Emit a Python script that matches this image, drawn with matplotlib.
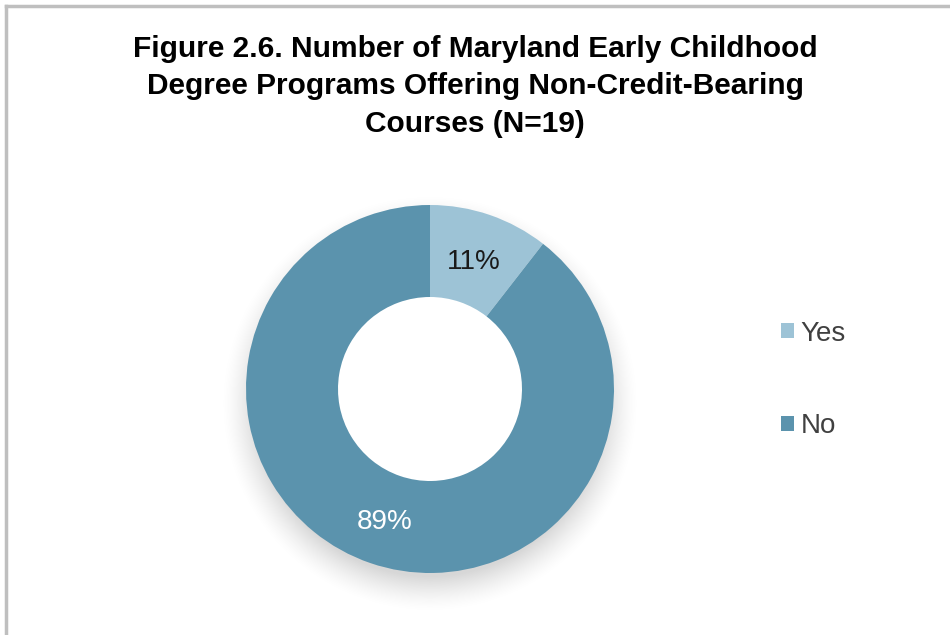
import numpy as np
import matplotlib
matplotlib.use("Agg")
import matplotlib.pyplot as plt
from matplotlib.lines import Line2D
from matplotlib.patches import Patch

plt.rcParams["font.family"] = ["Liberation Sans", "DejaVu Sans"]

# data: programs out of N=19
categories = ["Yes", "No"]
counts = [2, 17]
pct_labels = ["11%", "89%"]
colors = ["#9dc3d6", "#5b93ad"]
label_colors = ["#1a1a1a", "white"]
label_dist = [0.73, 0.765]

title = ("Figure 2.6. Number of Maryland Early Childhood\n"
         "Degree Programs Offering Non-Credit-Bearing\n"
         "Courses (N=19)")

fig = plt.figure(figsize=(9.5, 6.35), dpi=100)
fig.patch.set_facecolor("white")

# gray frame on top and left edges
fig.add_artist(Line2D([6 / 950, 1], [1 - 6 / 635, 1 - 6 / 635], color="#bfbfbf", lw=2.5,
                      transform=fig.transFigure))
fig.add_artist(Line2D([6 / 950, 6 / 950], [0, 1 - 6 / 635], color="#bfbfbf", lw=2.5,
                      transform=fig.transFigure))

fig.text(0.5, 0.945, title, ha="center", va="top", fontsize=21.5, fontweight="bold",
         color="black", linespacing=1.43)

ax = fig.add_axes([(430 - 184) / 950, (635 - 573) / 635, 368 / 950, 368 / 635])
ax.axis("off")

wedges, _ = ax.pie(counts, colors=colors, startangle=90, counterclock=False,
                   radius=1.0, wedgeprops=dict(width=0.5, edgecolor="none"))
for w in wedges:
    w.set_zorder(2)

# soft shadow below the ring (outside only)
gx, gy = np.meshgrid(np.linspace(-1.4, 1.4, 500), np.linspace(-1.4, 1.4, 500))
r = np.hypot(gx, gy + 0.08)
shadow = np.clip((1.14 - r) / 0.2, 0, 1) ** 1.5 * 0.16
shadow[np.hypot(gx, gy) < 0.98] = 0
rgba = np.zeros((500, 500, 4))
rgba[..., 3] = shadow
ax.imshow(rgba, extent=(-1.4, 1.4, -1.4, 1.4), origin="lower", zorder=0, clip_on=False)

ax.set_xlim(-1, 1)
ax.set_ylim(-1, 1)
ax.set_aspect("equal")

for w, lab, c, d in zip(wedges, pct_labels, label_colors, label_dist):
    ang = np.deg2rad((w.theta1 + w.theta2) / 2)
    ax.text(d * np.cos(ang), d * np.sin(ang), lab, ha="center", va="center",
            fontsize=20, color=c, zorder=3)

handles = [Patch(facecolor=c, edgecolor="none") for c in colors]
leg = fig.legend(handles, categories, loc="center left", bbox_to_anchor=(781 / 950, 1 - 380 / 635),
                 frameon=False, fontsize=20, handlelength=0.45, handleheight=0.45,
                 handletextpad=0.25, labelspacing=2.4, borderpad=0, borderaxespad=0,
                 labelcolor="#404040")

fig.savefig("out.png", dpi=100, facecolor="white")
